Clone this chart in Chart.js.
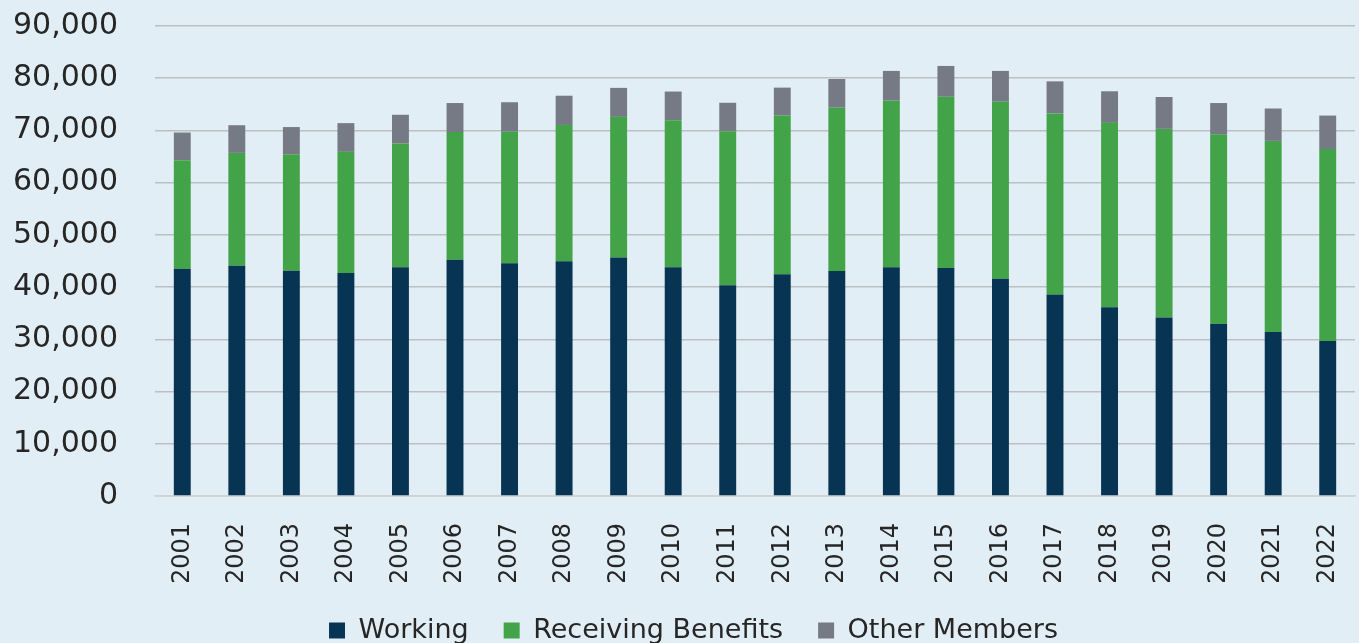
<!DOCTYPE html>
<html>
<head>
<meta charset="utf-8">
<script src="https://cdn.jsdelivr.net/npm/chart.js@4/dist/chart.umd.min.js"></script>
<style>
  html, body { margin: 0; padding: 0; background: #e2eef5; overflow: hidden; }
  #wrap { width: 1359px; height: 643px; }
</style>
</head>
<body>
<div id="wrap"><canvas id="myChart"></canvas></div>
<script>
const years = ["2001", "2002", "2003", "2004", "2005", "2006", "2007", "2008", "2009", "2010", "2011",
  "2012", "2013", "2014", "2015", "2016", "2017", "2018", "2019", "2020", "2021", "2022"];

const working = [43500, 44100, 43150, 42700, 43800, 45250, 44550, 44950, 45650, 43800, 40350,
  42450, 43100, 43800, 43650, 41600, 38600, 36150, 34200, 32950, 31400, 29700];
const receivingBenefits = [20800, 21600, 22300, 23200, 23700, 24450, 25200, 26100, 26950, 28150, 29500,
  30400, 31250, 31900, 32800, 33900, 34650, 35300, 36100, 36300, 36600, 36750];
const otherMembers = [5300, 5300, 5200, 5500, 5500, 5550, 5650, 5600, 5550, 5500, 5450,
  5350, 5500, 5700, 5900, 5900, 6150, 6050, 6100, 6000, 6200, 6400];

const yTicks = [0, 10000, 20000, 30000, 40000, 50000, 60000, 70000, 80000, 90000];

const fontFamily = "'DejaVu Sans', sans-serif";
const textColor = "#262626";

const data = {
  labels: years,
  datasets: [
    { label: "Working", data: working, backgroundColor: "#083453" },
    { label: "Receiving Benefits", data: receivingBenefits, backgroundColor: "#43a348" },
    { label: "Other Members", data: otherMembers, backgroundColor: "#767a84" },
  ],
};

// the legend sits a little right of centre in the original
const legendShift = {
  id: "legendShift",
  afterLayout(chart) {
    chart.legend.left += 14;
    chart.legend.right += 14;
  },
};

const config = {
  type: "bar",
  data,
  plugins: [legendShift],
  options: {
    responsive: true,
    maintainAspectRatio: false,
    animation: false,
    datasets: {
      bar: { categoryPercentage: 1, barPercentage: 0.31 },
    },
    layout: { padding: { top: 0, right: 0, left: 0, bottom: -11 } },
    plugins: {
      tooltip: { enabled: false },
      legend: {
        position: "bottom",
        labels: {
          color: textColor,
          font: { family: fontFamily, size: 27 },
          boxWidth: 16,
          boxHeight: 16,
          padding: 35,
        },
      },
    },
    scales: {
      x: {
        stacked: true,
        grid: { display: false },
        border: { display: true, color: "#cfd3d6", width: 1.5 },
        ticks: {
          color: textColor,
          font: { family: fontFamily, size: 24 },
          maxRotation: 90,
          minRotation: 90,
          padding: 19,
        },
        afterFit: (scale) => {
          scale.height = 86;
          scale.paddingLeft = 0;
          scale.paddingRight = 4;
        },
      },
      y: {
        stacked: true,
        min: 0,
        max: 90000,
        afterBuildTicks: (scale) => { scale.ticks = yTicks.map((v) => ({ value: v })); },
        grid: { color: "#bcc0c3", lineWidth: 1.5, drawTicks: false },
        border: { display: false },
        ticks: {
          color: textColor,
          font: { family: fontFamily, size: 30 },
          padding: 37,
          callback: (v) => v.toLocaleString("en-US"),
        },
        afterFit: (scale) => {
          scale.width = 155;
          scale.paddingTop = 26;
        },
      },
    },
  },
};

const myChart = new Chart(document.getElementById("myChart"), config);
</script>
</body>
</html>
